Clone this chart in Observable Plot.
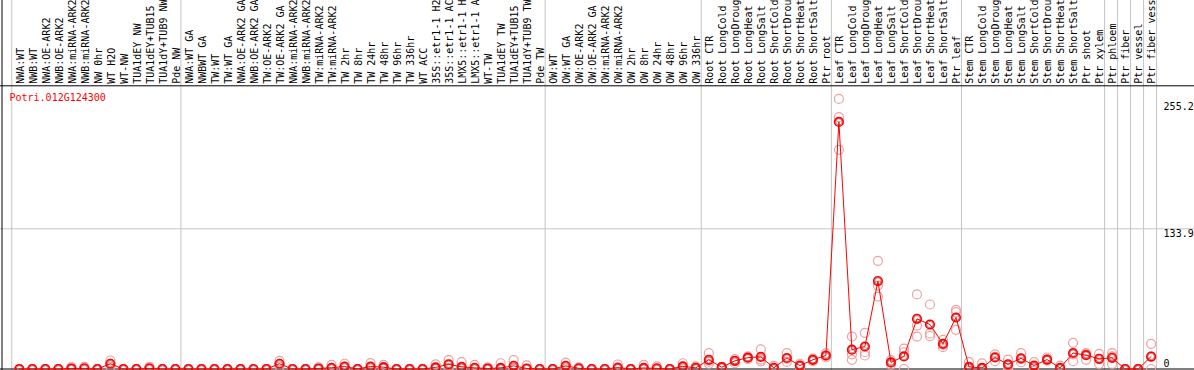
<!DOCTYPE html>
<html><head><meta charset="utf-8">
<script src="https://cdn.jsdelivr.net/npm/d3@7"></script>
<script src="https://cdn.jsdelivr.net/npm/@observablehq/plot@0.6"></script>
<style>html,body{margin:0;padding:0;background:#fff;overflow:hidden} svg{display:block}</style>
</head><body><div id="chart"></div>
<script>
const title = "Potri.012G124300";
const labels = [
"NWA:WT","NWB:WT","NWA:OE-ARK2","NWB:OE-ARK2","NWA:miRNA-ARK2","NWB:miRNA-ARK2","NW 0hr","WT H2O","WT-NW","TUA1dEY NW","TUA1dEY+TUB15","TUA1dY+TUB9 NW","Pde NW",
"NWA:WT GA","NWBWT GA","TW:WT","TW:WT GA","NWA:OE-ARK2 GA","NWB:OE-ARK2 GA","TW:OE-ARK2","TW:OE-ARK2 GA","NWA:miRNA-ARK2","NWB:miRNA-ARK2","TW:miRNA-ARK2","TW:miRNA-ARK2","TW 2hr","TW 8hr","TW 24hr",
"TW 48hr","TW 96hr","TW 336hr","WT ACC","35S::etr1-1 H2","35S::etr1-1 AC","LMX5::etr1-1 H","LMX5::etr1-1 A","WT-TW","TUA1dEY TW","TUA1dEY+TUB15","TUA1dY+TUB9 TW","Pde TW",
"OW:WT","OW:WT GA","OW:OE-ARK2","OW:OE-ARK2 GA","OW:miRNA-ARK2","OW:miRNA-ARK2","OW 2hr","OW 8hr","OW 24hr","OW 48hr","OW 96hr","OW 336hr",
"Root CTR","Root LongCold","Root LongDroug","Root LongHeat","Root LongSalt","Root ShortCold","Root ShortDrou","Root ShortHeat","Root ShortSalt","Ptr root",
"Leaf CTR","Leaf LongCold","Leaf LongDroug","Leaf LongHeat","Leaf LongSalt","Leaf ShortCold","Leaf ShortDrou","Leaf ShortHeat","Leaf ShortSalt","Ptr leaf",
"Stem CTR","Stem LongCold","Stem LongDroug","Stem LongHeat","Stem LongSalt","Stem ShortCold","Stem ShortDrou","Stem ShortHeat","Stem ShortSalt","Ptr shoot","Ptr xylem",
"Ptr phloem","Ptr fiber","Ptr vessel","Ptr fiber vess"
];
const means = [
0,0,0,0,0.5,0.6,0,5,0,0,0.6,0,0,
0,0,0,0,0,0,0,5,0,0,0.5,1.2,2.4,0,2.4,
1.7,0,0,0,1.5,4.5,2,1.1,0.5,1,3,0.5,0,
0,3,0.7,0,0,1.4,0,1,0.6,0,2.5,1.1,
8.8,1.7,7.8,10.8,11.6,1.1,10.5,3.3,8.8,12.9,
236,18.5,21.5,84,6.3,12,47.9,42.5,24,49.2,
2,1,11,4.5,10.2,3.3,9,1,15.3,13.2,9.7,
10.7,0,0,11.9
];
const rep1 = [
0,0,0,0,1.7,2,0,8.1,0,0,2,0,0,
0,0,0,0,0,0,0,7.7,0,0,1.5,4,5,0,5.6,
4,0,0,0,4.5,8.5,6.5,4,1.5,5.5,8.5,3.5,0,
0,6,1.5,0,0,4.3,0,4,2.6,0,5.5,2.6,
15.1,2,9.5,12,18.7,3,15.1,5,10,15,
258,31,34.6,103.3,8.5,19.5,71.2,61.6,27.9,56.5,
6.5,5.3,14,9,15.2,6.5,11,3.3,25,15.2,14.5,
15.2,0,0,24
];
const rep2 = [
0,0,0,0,0,0,0,5,0,0,0,0,0,
0,0,0,0,0,0,0,5,0,0,0,0,2,0,1.5,
1,0,0,0,0.5,4,0,0,0,0,1,0,0,
0,2.5,0.5,0,0,0,0,0,0,0,2,1,
7,1.7,7.5,11,9,0.5,10,3,9,12.5,
240.5,14,16,79.7,6,16,41.5,34,23,54.3,
0,0,11.5,3,9.5,2.5,9,0,14,14,9.5,
12,0,0,11.9
];
const rep3 = [
0,0,0,0,0,0,0,2,0,0,0,0,0,
0,0,0,0,0,0,0,2.3,0,0,0,0,0.5,0,0,
0,0,0,0,0,1,0,0,0,0,0.5,0,0,
0,0.5,0,0,0,0,0,0,0,0,0,0,
5,1.4,5.5,9.5,7.3,0,6.8,2,7.5,11,
209.3,8.8,12.9,69.2,4,0,31,31.5,20.8,37.4,
0,0,7.5,0,6.5,1,8,0,7.5,8.8,4.8,
4.8,0,0,0
];
const groupBounds = [0, 13, 41, 53, 63, 73, 84, 85, 86, 87, 88];
const yTicksTop = [255.2, 133.9];
const yTicksBottom = [0];
const yGrid = [133.9];

const xOff = 0.58;
const yMax = 270.5;
const xStart = -0.75;
const pts = labels.map((label, i) => ({i, label, mean: means[i]}));
const reps = [];
labels.forEach((l, i) => [rep1, rep2, rep3].forEach(r => reps.push({i, v: r[i]})));
const X = d => d.i + xOff;

const chart = Plot.plot({
  width: 1194, height: 370,
  marginTop: 0, marginBottom: 0, marginLeft: 0, marginRight: 0,
  x: {domain: [xStart, 88], range: [1.5, 1156.1], axis: null},
  y: {domain: [0, yMax], range: [368.5, 85.3], axis: null},
  style: {fontFamily: "'DejaVu Sans Mono', monospace", fontSize: "10px", background: "#fff", overflow: "hidden"},
  marks: [
    Plot.ruleX(groupBounds, {stroke: "#c4c4c4", strokeWidth: 1}),
    Plot.ruleY(yGrid, {stroke: "#c4c4c4", strokeWidth: 1}),
    Plot.ruleY([0, yMax], {stroke: "#000", strokeWidth: 1}),
    Plot.ruleX([xStart], {stroke: "#000", strokeWidth: 1}),
    Plot.text(pts, {x: X, y: () => yMax, text: "label", rotate: -90, textAnchor: "start", lineAnchor: "middle", dx: 1, dy: -2, fill: "#000"}),
    Plot.text([title], {frameAnchor: "top-left", dx: 9, dy: 93, textAnchor: "start", lineAnchor: "top", fill: "#f00"}),
    Plot.text(yTicksTop, {x: () => 88, y: d => d, text: d => String(d), dx: 7, dy: 1, textAnchor: "start", lineAnchor: "top", fill: "#000"}),
    Plot.text(yTicksBottom, {x: () => 88, y: d => d, text: d => String(d), dx: 7, dy: -2, textAnchor: "start", lineAnchor: "bottom", fill: "#000"}),
    Plot.dot(reps, {x: X, y: "v", r: 4.5, stroke: "#f0a0a0", strokeWidth: 1.2}),
    Plot.line(pts, {x: X, y: "mean", stroke: "#f00", strokeWidth: 1}),
    Plot.dot(pts, {x: X, y: "mean", r: 4.3, stroke: "#f00", strokeWidth: 1.6}),
    Plot.dot(pts, {x: X, y: "mean", r: 3.2, stroke: "#900", strokeWidth: 0.5})
  ]
});
document.getElementById("chart").appendChild(chart);
</script>
</body></html>
